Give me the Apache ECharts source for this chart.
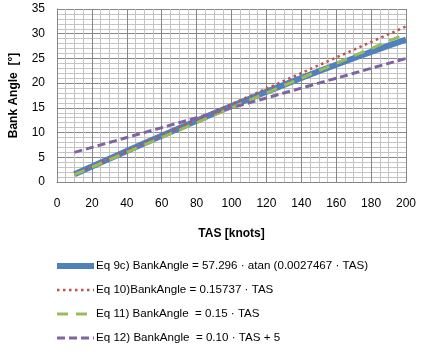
<!DOCTYPE html>
<html>
<head>
<meta charset="utf-8">
<script src="https://cdn.jsdelivr.net/npm/echarts@6/dist/echarts.min.js"></script>
<style>
  html, body { margin: 0; padding: 0; background: #fff; }
  #chart { width: 425px; height: 354px; }
</style>
</head>
<body>
<div id="chart"></div>
<script>
// TAS [knots]
const tas = [10, 20, 30, 40, 50, 60, 70, 80, 90, 100, 110, 120, 130, 140, 150, 160, 170, 180, 190, 200]

// bank angle readings per equation
const eq9c = [1.57, 3.14, 4.71, 6.27, 7.82, 9.36, 10.88, 12.39, 13.89, 15.36, 16.81, 18.24, 19.65, 21.04, 22.40, 23.73, 25.04, 26.33, 27.58, 28.81]
const eq10 = [1.57, 3.15, 4.72, 6.29, 7.87, 9.44, 11.02, 12.59, 14.16, 15.74, 17.31, 18.88, 20.46, 22.03, 23.61, 25.18, 26.75, 28.33, 29.90, 31.47]
const eq11 = [1.5, 3.0, 4.5, 6.0, 7.5, 9.0, 10.5, 12.0, 13.5, 15.0, 16.5, 18.0, 19.5, 21.0, 22.5, 24.0, 25.5, 27.0, 28.5, 30.0]
const eq12 = [6, 7, 8, 9, 10, 11, 12, 13, 14, 15, 16, 17, 18, 19, 20, 21, 22, 23, 24, 25]

const names = [
    'Eq 9c) BankAngle = 57.296 · atan (0.0027467 · TAS)',
    'Eq 10)BankAngle = 0.15737 · TAS',
    'Eq 11) BankAngle  = 0.15 · TAS',
    'Eq 12) BankAngle  = 0.10 · TAS + 5'
]

// 每条线的样式
const styles = [
    { color: '#4F81BD', width: 6, type: 'solid' },
    { color: '#C0504D', width: 2.5, type: [2.5, 3.5] },
    { color: '#9BBB59', width: 3, type: [11, 8] },
    { color: '#8064A2', width: 3, type: [8, 4] }
]
const values = [eq9c, eq10, eq11, eq12]

const pairs = arr => tas.map((x, i) => [x, arr[i]])

const font = 'Liberation Sans, Arial, sans-serif'

let myChart = echarts.init(document.getElementById('chart'))
myChart.setOption({
    animation: false,
    grid: { left: 56, right: 19, top: 9, bottom: 172 },
    legend: {
        orient: 'vertical',
        left: 54,
        top: 260,
        padding: 0,
        itemWidth: 37,
        itemHeight: 12,
        itemGap: 12,
        itemStyle: { opacity: 0 },
        textStyle: { fontFamily: font, fontSize: 11.6, color: '#000', padding: [0, 0, 0, -3] },
        data: names.map((n, i) => ({ name: n, lineStyle: { width: styles[i].width, type: styles[i].type, color: styles[i].color } }))
    },
    xAxis: {
        type: 'value',
        min: 0, max: 200, interval: 20,
        name: 'TAS [knots]',
        nameLocation: 'middle',
        nameGap: 46,
        nameTextStyle: { fontFamily: font, fontSize: 12, fontWeight: 'bold', color: '#000' },
        axisLine: { show: true, lineStyle: { color: '#868686' } },
        axisTick: { show: false },
        axisLabel: { margin: 16, fontFamily: font, fontSize: 12, color: '#000' },
        splitLine: { show: true, lineStyle: { color: '#868686', width: 1 } },
        minorTick: { show: false, splitNumber: 4 },
        minorSplitLine: { show: true, lineStyle: { color: '#c4c4c4', width: 1 } }
    },
    yAxis: {
        type: 'value',
        min: 0, max: 35, interval: 5,
        name: 'Bank Angle  [°]',
        nameLocation: 'middle',
        nameGap: 37,
        nameTextStyle: { fontFamily: font, fontSize: 12, fontWeight: 'bold', color: '#000' },
        axisLine: { show: true, lineStyle: { color: '#868686' } },
        axisTick: { show: false },
        axisLabel: { margin: 12, fontFamily: font, fontSize: 12, color: '#000' },
        splitLine: { show: true, lineStyle: { color: '#868686', width: 1 } },
        minorTick: { show: false, splitNumber: 5 },
        minorSplitLine: { show: true, lineStyle: { color: '#c4c4c4', width: 1 } }
    },
    series: values.map((v, i) => ({
        name: names[i],
        type: 'line',
        symbol: 'none',
        z: 2 + i,
        lineStyle: styles[i],
        itemStyle: { color: styles[i].color },
        data: pairs(v)
    }))
})
</script>
</body>
</html>
